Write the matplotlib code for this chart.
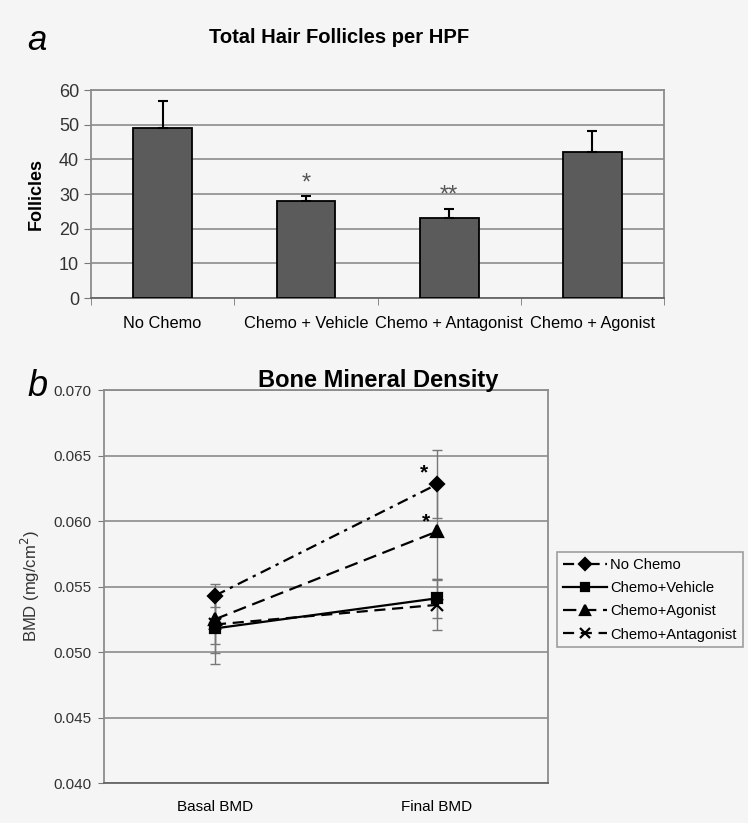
import numpy as np
import matplotlib
matplotlib.use("Agg")
import matplotlib.pyplot as plt
from matplotlib.ticker import FixedLocator, NullFormatter

plt.rcParams['font.family'] = ['Liberation Sans', 'DejaVu Sans']

# panel a data
groups = ["No Chemo", "Chemo + Vehicle", "Chemo + Antagonist", "Chemo + Agonist"]
follicles = [49.1, 28.1, 23.2, 42.0]
follicles_err = [7.6, 1.2, 2.6, 6.2]
stars_a = ["", "*", "**", ""]

# panel b data
timepoints = ["Basal BMD", "Final BMD"]
no_chemo = [0.0543, 0.0628]
no_chemo_err = [0.0009, 0.0026]
vehicle = [0.0518, 0.0541]
vehicle_err = [0.0027, 0.0015]
agonist = [0.0525, 0.0592]
agonist_err = [0.0019, 0.0036]
antagonist = [0.0521, 0.0536]
antagonist_err = [0.0022, 0.0019]
stars_b = [0.0637, 0.0599]

bg = "#f5f5f5"
fig = plt.figure(figsize=(7.48, 8.23), dpi=100, facecolor=bg)

# ---- panel a ----
ax1 = fig.add_axes([0.1217, 0.6379, 0.766, 0.2527], facecolor=bg)
x = np.arange(len(groups))
ax1.bar(x, follicles, width=0.41, color="#5b5b5b", edgecolor="black", linewidth=1.3, zorder=3)
ax1.errorbar(x, follicles, yerr=[np.zeros(4), follicles_err], fmt="none",
             ecolor="black", elinewidth=1.5, capsize=3.8, capthick=1.5, zorder=4)
for xi, h, e, s in zip(x, follicles, follicles_err, stars_a):
    if s:
        ax1.text(xi, h + e + 0.6, s, ha="center", va="bottom", fontsize=17, color="#555555")
ax1.set_xlim(-0.5, 3.5)
ax1.set_ylim(0, 60)
ax1.set_yticks(range(0, 61, 10))
ax1.yaxis.grid(True, color="#8c8c8c", linewidth=1.2, zorder=0)
ax1.set_xticks(x)
ax1.set_xticklabels(groups, fontsize=11.8)
ax1.tick_params(axis="x", length=0, pad=13)
ax1.xaxis.set_minor_locator(FixedLocator([-0.5, 0.5, 1.5, 2.5, 3.5]))
ax1.xaxis.set_minor_formatter(NullFormatter())
ax1.tick_params(axis="x", which="minor", length=5, color="#777777")
ax1.tick_params(axis="y", labelsize=13, length=5, color="#777777", labelcolor="#333333")
for sp in ax1.spines.values():
    sp.set_color("#8c8c8c")
    sp.set_linewidth(1.3)
ax1.spines["bottom"].set_color("#666666")
ax1.set_ylabel("Follicles", fontsize=13, fontweight="bold", labelpad=10)
fig.text(0.453, 0.955, "Total Hair Follicles per HPF", ha="center", va="center",
         fontsize=14.5, fontweight="bold")
fig.text(0.05, 0.951, "a", ha="center", va="center", fontsize=25, style="italic")

# ---- panel b ----
ax2 = fig.add_axes([0.139, 0.0486, 0.5936, 0.4775], facecolor=bg)
tx = np.arange(len(timepoints))
series = [
    (no_chemo, no_chemo_err, "D", (0, (5, 2.5, 1.5, 2.5)), "No Chemo", 7),
    (vehicle, vehicle_err, "s", "-", "Chemo+Vehicle", 7.5),
    (agonist, agonist_err, "^", (0, (6, 3)), "Chemo+Agonist", 8),
    (antagonist, antagonist_err, "x", (0, (5, 3)), "Chemo+Antagonist", 9),
]
for vals, errs, m, ls, lab, ms in series:
    ax2.errorbar(tx, vals, yerr=errs, fmt="none", ecolor="#777777", elinewidth=1,
                 capsize=3.5, capthick=1, zorder=2)
    ax2.plot(tx, vals, color="black", linestyle=ls, linewidth=1.6, marker=m,
             markersize=ms, markeredgewidth=1.6, label=lab, zorder=3)
ax2.text(1 - 0.06, stars_b[0], "*", ha="center", va="center", fontsize=15, fontweight="bold")
ax2.text(1 - 0.05, stars_b[1], "*", ha="center", va="center", fontsize=15, fontweight="bold")
ax2.set_xlim(-0.5, 1.5)
ax2.set_ylim(0.040, 0.070)
ticks_b = np.arange(0.040, 0.0701, 0.005)
ax2.set_yticks(ticks_b)
ax2.set_yticklabels(["%.3f" % v for v in ticks_b])
ax2.yaxis.grid(True, color="#8c8c8c", linewidth=1.2, zorder=0)
ax2.set_xticks(tx)
ax2.set_xticklabels(timepoints, fontsize=11)
ax2.tick_params(axis="x", length=0, pad=12)
ax2.tick_params(axis="y", labelsize=11, length=4, color="#777777", pad=5, labelcolor="#333333")
for sp in ax2.spines.values():
    sp.set_color("#8c8c8c")
    sp.set_linewidth(1.3)
ax2.spines["bottom"].set_color("#666666")
ax2.set_ylabel("BMD (mg/cm$^2$)", fontsize=12, color="#333333", labelpad=8)
fig.text(0.505, 0.538, "Bone Mineral Density", ha="center", va="center",
         fontsize=17, fontweight="bold")
fig.text(0.05, 0.530, "b", ha="center", va="center", fontsize=26, style="italic")

leg = ax2.legend(loc="upper left", bbox_to_anchor=(0.745, 0.329), bbox_transform=fig.transFigure,
                 fontsize=10.6, frameon=True, fancybox=False, handlelength=3.0,
                 handletextpad=0.2, borderpad=0.4, labelspacing=0.62, borderaxespad=0,
                 markerscale=0.85)
leg.get_frame().set_edgecolor("#888888")
leg.get_frame().set_facecolor(bg)
leg.get_frame().set_linewidth(1.2)

fig.savefig("out.png", dpi=100, facecolor=bg)
